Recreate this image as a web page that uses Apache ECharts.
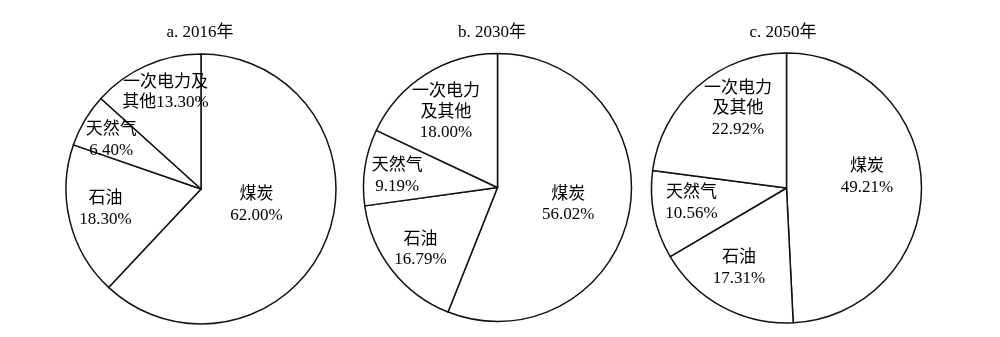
<!DOCTYPE html>
<html>
<head>
<meta charset="utf-8">
<script src="https://cdn.jsdelivr.net/npm/echarts@6/dist/echarts.min.js"></script>
<style>
html,body{margin:0;padding:0;background:#fff;}
#chart{width:1000px;height:337px;}
</style>
</head>
<body>
<div id="chart"></div>
<script>
// ---- data ----
const categories = ['煤炭', '石油', '天然气', '一次电力及其他'];
const titles = ['a. 2016年', 'b. 2030年', 'c. 2050年'];
const values2016 = [62.00, 18.30, 6.40, 13.30];
const values2030 = [56.02, 16.79, 9.19, 18.00];
const values2050 = [49.21, 17.31, 10.56, 22.92];
// label text (line breaks as in the figure)
const labelNames2016 = ['煤炭\n', '石油\n', '天然气\n', '一次电力及\n其他'];
const labelNames2030 = ['煤炭\n', '石油\n', '天然气\n', '一次电力\n及其他\n'];
const labelNames2050 = ['煤炭\n', '石油\n', '天然气\n', '一次电力\n及其他\n'];

// ---- layout / style ----
const FONT = '"Liberation Serif", "Times New Roman", "Noto Sans CJK SC", serif';
const pies = [
  { values: values2016, names: labelNames2016, center: [201, 189], radius: 135, title: [200, 33],
    nudge: [[-10, -10], [-27, 3], [-29, -13], [-7, -32]] },
  { values: values2030, names: labelNames2030, center: [497.5, 187.5], radius: 134, title: [492, 33],
    nudge: [[2, 4], [-22, 19], [-31, -1], [-14, -16]] },
  { values: values2050, names: labelNames2050, center: [786.5, 188], radius: 135, title: [783, 33],
    nudge: [[10, -9], [-14, 18], [-26, 1], [-2, -26]] }
];

const chart = echarts.init(document.getElementById('chart'), null, { renderer: 'canvas' });

const option = {
  backgroundColor: '#fff',
  animation: false,
  title: pies.map((p, i) => ({
    text: titles[i],
    left: p.title[0],
    top: p.title[1],
    padding: 0,
    textAlign: 'center',
    textVerticalAlign: 'middle',
    textStyle: { fontFamily: FONT, fontSize: 17, fontWeight: 'normal', color: '#000' }
  })),
  series: pies.map((p, i) => ({
    type: 'pie',
    center: p.center,
    radius: p.radius,
    startAngle: 90,
    clockwise: true,
    avoidLabelOverlap: false,
    silent: true,
    itemStyle: { color: '#fff', borderColor: '#111', borderWidth: 1.5 },
    label: {
      show: true,
      position: 'inside',
      color: '#000',
      fontFamily: FONT,
      fontSize: 17,
      lineHeight: 20.5,
      align: 'center',
      formatter: (params) => p.names[params.dataIndex] + params.value.toFixed(2) + '%'
    },
    labelLine: { show: false },
    labelLayout: (params) => ({ dx: p.nudge[params.dataIndex][0], dy: p.nudge[params.dataIndex][1] }),
    emphasis: { disabled: true },
    data: categories.map((c, k) => ({ name: c, value: p.values[k] }))
  }))
};

chart.setOption(option);
</script>
</body>
</html>
